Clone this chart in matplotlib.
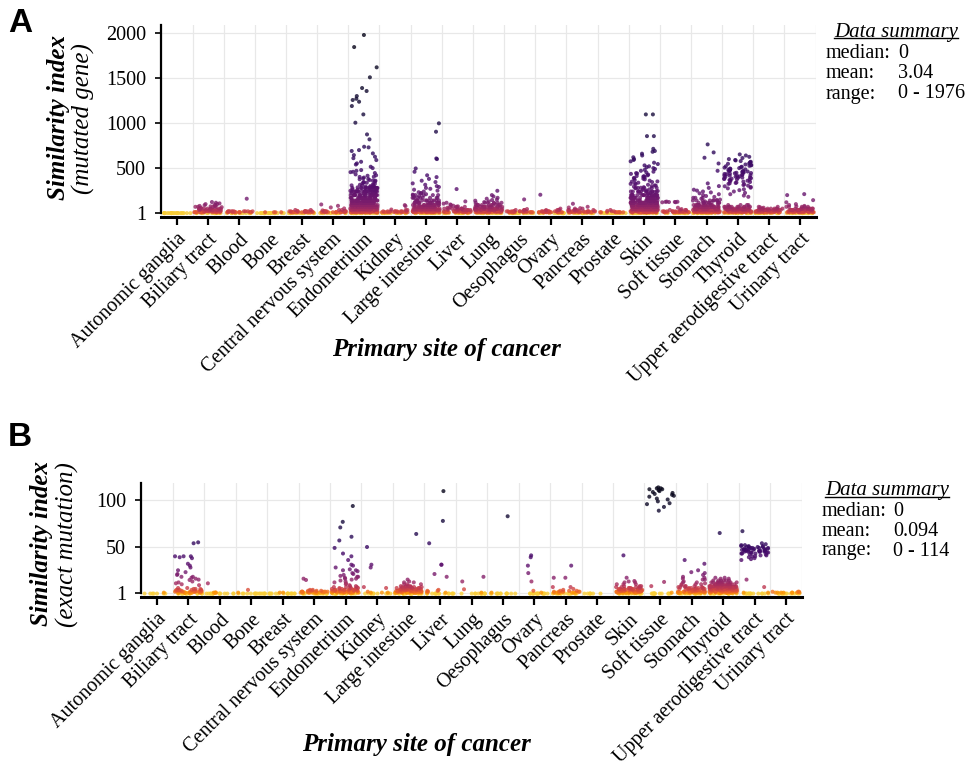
import numpy as np
import matplotlib
matplotlib.use('Agg')
import matplotlib.pyplot as plt
from matplotlib.colors import ListedColormap, FuncNorm
from matplotlib.lines import Line2D
from matplotlib.transforms import ScaledTranslation
import seaborn as sns

plt.rcParams['font.family'] = 'serif'
plt.rcParams['font.serif'] = ['Liberation Serif', 'DejaVu Serif']

sites = ['Autonomic ganglia', 'Biliary tract', 'Blood', 'Bone', 'Breast',
         'Central nervous system', 'Endometrium', 'Kidney', 'Large intestine',
         'Liver', 'Lung', 'Oesophagus', 'Ovary', 'Pancreas', 'Prostate', 'Skin',
         'Soft tissue', 'Stomach', 'Thyroid', 'Upper aerodigestive tract',
         'Urinary tract']

# ---- panel A: similarity index on the mutated gene ----
# low values are very frequent, so they are kept as (level, number of samples)
gene_levels = [0, 10, 20, 35, 50, 70, 90, 115, 140, 170, 200, 240, 280]
gene_counts = [
    [22, 0, 0, 0, 0, 0, 0, 0, 0, 0, 0, 0, 0],          # Autonomic ganglia
    [16, 16, 16, 14, 10, 4, 0, 0, 0, 0, 0, 0, 0],       # Biliary tract
    [16, 14, 8, 0, 0, 0, 0, 0, 0, 0, 0, 0, 0],          # Blood
    [22, 4, 0, 0, 0, 0, 0, 0, 0, 0, 0, 0, 0],           # Bone
    [16, 16, 10, 2, 0, 0, 0, 0, 0, 0, 0, 0, 0],         # Breast
    [16, 16, 10, 2, 0, 0, 0, 0, 0, 0, 0, 0, 0],         # Central nervous system
    [22, 30, 30, 32, 32, 32, 30, 28, 28, 26, 22, 18, 12],  # Endometrium
    [16, 16, 10, 2, 0, 0, 0, 0, 0, 0, 0, 0, 0],         # Kidney
    [18, 22, 22, 22, 22, 20, 18, 16, 12, 8, 5, 0, 0],   # Large intestine
    [16, 16, 14, 12, 8, 3, 0, 0, 0, 0, 0, 0, 0],        # Liver
    [16, 20, 20, 20, 18, 14, 10, 5, 0, 0, 0, 0, 0],     # Lung
    [16, 16, 12, 3, 0, 0, 0, 0, 0, 0, 0, 0, 0],         # Oesophagus
    [16, 16, 12, 4, 0, 0, 0, 0, 0, 0, 0, 0, 0],         # Ovary
    [16, 16, 14, 7, 2, 0, 0, 0, 0, 0, 0, 0, 0],         # Pancreas
    [18, 10, 2, 0, 0, 0, 0, 0, 0, 0, 0, 0, 0],          # Prostate
    [22, 30, 30, 32, 32, 32, 30, 28, 24, 22, 18, 10, 5],  # Skin
    [16, 16, 12, 4, 0, 0, 0, 0, 0, 0, 0, 0, 0],         # Soft tissue
    [20, 24, 24, 24, 22, 20, 15, 10, 5, 2, 0, 0, 0],    # Stomach
    [18, 20, 20, 20, 18, 12, 4, 0, 0, 0, 0, 0, 0],      # Thyroid
    [18, 20, 20, 16, 9, 2, 0, 0, 0, 0, 0, 0, 0],        # Upper aerodigestive tract
    [18, 20, 20, 16, 12, 5, 0, 0, 0, 0, 0, 0, 0],       # Urinary tract
]
gene_scatter = [
    [],
    [60, 66, 72, 75, 80, 85, 88, 92, 100, 100, 108, 115, 123],
    [22, 160],
    [],
    [25],
    [30, 52, 63, 81, 96],
    [1978, 1844, 1619, 1508, 1389, 1356, 1300, 1270, 1256, 1237, 1189, 1096,
     1004, 874, 819, 737, 730, 700, 690, 663, 644, 626, 610, 589, 570, 552,
     540, 515, 500, 478, 470, 459, 445, 430, 415, 404, 395, 385, 376, 367,
     360, 352, 345, 338, 330, 322, 315, 308, 300, 296, 290, 284, 278, 270,
     265, 258, 252, 246, 240, 236, 230, 226, 222, 218, 215, 212, 455, 420,
     402, 380, 362, 340, 326, 312, 305, 298, 292, 286, 275, 262, 255, 248],
    [40, 78, 89],
    [997, 904, 607, 600, 496, 459, 420, 400, 380, 360, 345, 330, 315, 300,
     290, 280, 270, 260, 250, 240, 232, 224, 216, 210, 205, 190, 180],
    [60, 68, 75, 82, 90, 96, 105, 115, 130, 267],
    [110, 116, 122, 130, 138, 145, 150, 160, 170, 185, 200, 248],
    [45, 152],
    [50, 204],
    [55, 62, 70, 104],
    [25, 35],
    [1096, 1096, 855, 855, 714, 681, 690, 660, 640, 620, 600, 590, 575, 560,
     545, 530, 520, 510, 500, 490, 480, 470, 460, 452, 444, 436, 428, 420,
     412, 405, 398, 390, 382, 375, 368, 360, 352, 345, 338, 330, 322, 315,
     308, 300, 294, 288, 282, 276, 270, 264, 258, 252, 246, 240, 234, 228,
     222, 216, 210, 440, 410, 385, 350, 325, 305],
    [120, 121, 123, 124, 125, 126, 128, 45, 60],
    [763, 674, 615, 551, 470, 330, 300, 280, 260, 250, 240, 230, 220, 210,
     200, 190, 180, 170, 160, 150, 145, 140, 135, 130],
    [652, 640, 625, 612, 600, 590, 585, 578, 570, 565, 560, 552, 548, 540,
     535, 530, 525, 520, 515, 510, 505, 500, 495, 490, 486, 482, 478, 474,
     470, 466, 462, 458, 455, 452, 448, 445, 442, 438, 435, 432, 428, 425,
     422, 418, 415, 412, 408, 405, 402, 398, 395, 392, 388, 385, 382, 378,
     375, 372, 368, 365, 360, 355, 350, 345, 340, 335, 330, 325, 320, 312,
     305, 298, 290, 282, 275, 265, 255, 240, 225, 210, 195, 181],
    [60, 65],
    [75, 80, 90, 100, 120, 144, 200, 211],
]

# ---- panel B: similarity index on the exact mutation ----
mut_levels = [0, 1, 2, 3, 4, 5, 6, 7, 8, 10, 12, 14]
mut_counts = [
    [7, 1, 0, 0, 0, 0, 0, 0, 0, 0, 0, 0],          # Autonomic ganglia
    [14, 12, 10, 8, 5, 3, 2, 0, 0, 0, 0, 0],       # Biliary tract
    [14, 4, 0, 0, 0, 0, 0, 0, 0, 0, 0, 0],         # Blood
    [15, 1, 0, 0, 0, 0, 0, 0, 0, 0, 0, 0],         # Bone
    [15, 2, 0, 0, 0, 0, 0, 0, 0, 0, 0, 0],         # Breast
    [15, 14, 10, 5, 2, 0, 0, 0, 0, 0, 0, 0],       # Central nervous system
    [15, 15, 14, 12, 8, 6, 4, 3, 2, 0, 0, 0],      # Endometrium
    [10, 3, 1, 0, 0, 0, 0, 0, 0, 0, 0, 0],         # Kidney
    [15, 16, 16, 14, 12, 10, 8, 6, 5, 3, 1, 0],    # Large intestine
    [14, 2, 2, 1, 0, 0, 0, 0, 0, 0, 0, 0],         # Liver
    [12, 1, 0, 0, 0, 0, 0, 0, 0, 0, 0, 0],         # Lung
    [12, 1, 0, 0, 0, 0, 0, 0, 0, 0, 0, 0],         # Oesophagus
    [14, 1, 0, 0, 0, 0, 0, 0, 0, 0, 0, 0],         # Ovary
    [14, 10, 6, 3, 1, 0, 0, 0, 0, 0, 0, 0],        # Pancreas
    [7, 0, 0, 0, 0, 0, 0, 0, 0, 0, 0, 0],          # Prostate
    [15, 15, 14, 12, 10, 8, 6, 4, 3, 2, 1, 0],     # Skin
    [12, 1, 0, 0, 0, 0, 0, 0, 0, 0, 0, 0],         # Soft tissue
    [15, 15, 12, 10, 8, 7, 6, 4, 3, 2, 1, 0],      # Stomach
    [15, 18, 18, 18, 18, 18, 18, 16, 16, 14, 10, 6],  # Thyroid
    [14, 2, 0, 0, 0, 0, 0, 0, 0, 0, 0, 0],         # Upper aerodigestive tract
    [14, 8, 3, 0, 0, 0, 0, 0, 0, 0, 0, 0],         # Urinary tract
]
mut_scatter = [
    [],
    [54, 55, 40, 40, 39, 38, 32, 30, 28, 25, 21, 18, 18, 16, 14.6, 13, 12,
     11, 10, 9, 40, 20, 17, 15, 23],
    [11],
    [4],
    [],
    [16, 14.6],
    [94, 77, 71, 61, 57, 49, 43, 40, 36, 31, 30, 25, 25, 22, 20, 18, 18, 16,
     15, 14, 13, 12, 11, 10, 9, 28, 26, 24, 21, 19, 17, 16],
    [50, 31, 28, 7, 6],
    [64, 15, 13, 12],
    [110, 78, 54, 31, 31, 21, 18, 4, 3],
    [18, 13, 4.6],
    [83],
    [41, 39, 30, 22, 13, 3],
    [30, 17, 17, 7, 7, 5],
    [],
    [41, 17, 13.5, 13, 12, 10],
    [114, 113, 113, 112, 112, 111, 110, 109, 108, 107, 106, 105, 104, 102,
     101, 99, 97, 96, 93, 89, 12.5, 8],
    [36, 32, 25, 23, 22, 18, 16, 15, 15, 13, 12, 11, 10, 9, 17, 20],
    [65, 16, 17, 16, 17],
    [54, 53, 52, 52, 51, 51, 50, 50, 50, 49, 49, 49, 48, 48, 48, 48, 47, 47,
     47, 47, 47, 46, 46, 46, 46, 46, 45, 45, 45, 45, 44, 44, 44, 43, 43, 43,
     42, 42, 41, 41, 40, 40, 39, 38, 37, 36, 49, 48, 47, 46, 45, 44, 50, 51,
     67, 15, 7],
    [],
]

gene_summary = ['0', '3.04', '0 - 1976']
mut_summary = ['0', '0.094', '0 - 114']


def expand(levels, counts, scatter):
    cats, vals = [], []
    for site, row, extra in zip(sites, counts, scatter):
        v = list(np.repeat(levels, row)) + list(extra)
        cats += [site] * len(v)
        vals += v
    return cats, vals


# inferno from orange (low) to near black (high)
cmap = ListedColormap(plt.cm.inferno(np.linspace(0.88, 0.04, 256)))

W, H = 972, 764
fig = plt.figure(figsize=(W / 100, H / 100), dpi=100)


def fx(px):
    return px / W


def fy(py):
    return 1 - py / H


def strip_panel(ax, cats, vals, ylim, yticks):
    sns.stripplot(x=cats, y=vals, order=sites, jitter=0.44, size=2.9,
                  linewidth=0, alpha=0.8, color='k', ax=ax)
    norm = FuncNorm((np.log1p, np.expm1), vmin=0, vmax=max(vals))
    for coll in ax.collections:
        offs = np.asarray(coll.get_offsets())
        if len(offs) == 0:
            continue
        coll.set_array(offs[:, 1])
        coll.set_cmap(cmap)
        coll.set_norm(norm)
        coll.set_zorder(3)

    # spines first: moving a spine rebuilds the ticks
    for s in ['top', 'right']:
        ax.spines[s].set_visible(False)
    ax.spines['bottom'].set_position(('outward', 1))
    ax.spines['left'].set_bounds(1, ylim[1])
    ax.spines['left'].set_linewidth(1.6)
    ax.spines['bottom'].set_linewidth(2.2)

    ax.set_xlim(-0.5, len(sites) - 0.5)
    ax.set_ylim(*ylim)
    ax.set_xticks(range(len(sites)))
    ax.set_xticklabels(sites, rotation=45, ha='right', va='top',
                       rotation_mode='anchor', fontsize=14.5)
    shift = ScaledTranslation(5 / 100, 0, fig.dpi_scale_trans)
    for lab in ax.get_xticklabels():
        lab.set_transform(lab.get_transform() + shift)
    ax.set_xticks(np.arange(len(sites) + 1) - 0.5, minor=True)
    ax.set_yticks(yticks)
    ax.set_yticklabels([str(t) for t in yticks], fontsize=14.5)
    ax.set_xlabel('')
    ax.set_ylabel('')

    ax.grid(False)
    ax.grid(which='minor', axis='x', color='#e8e8e8', lw=0.9)
    ax.grid(which='major', axis='y', color='#e8e8e8', lw=0.9)
    ax.set_axisbelow(True)

    ax.tick_params(axis='x', which='major', length=6, width=1.6, pad=3)
    ax.tick_params(axis='y', which='major', length=4, width=1.2, pad=7)
    ax.tick_params(which='minor', length=0)


def summary(x_head, x_lab, x_val, y_head, y_rows, values):
    t = fig.text(fx(x_head), fy(y_head), 'Data summary',
                 style='italic', fontsize=15, ha='center', va='center')
    for lab, val, y in zip(['median:', 'mean:', 'range:'], values, y_rows):
        fig.text(fx(x_lab), fy(y), lab, fontsize=14.5, ha='left', va='center')
        fig.text(fx(x_val), fy(y), val, fontsize=14.5, ha='left', va='center')
    return t


def underline(t):
    bb = t.get_window_extent().transformed(fig.transFigure.inverted())
    fig.add_artist(Line2D([bb.x0, bb.x1], [bb.y0 + 0.004, bb.y0 + 0.004],
                          transform=fig.transFigure, color='k', lw=1.0))


axA = fig.add_axes([fx(161.4), fy(216), fx(815.6) - fx(161.4), fy(25) - fy(216)])
cats, vals = expand(gene_levels, gene_counts, gene_scatter)
strip_panel(axA, cats, vals, (-32, 2089), [1, 500, 1000, 1500, 2000])

axB = fig.add_axes([fx(141.3), fy(596), fx(801.7) - fx(141.3), fy(483) - fy(596)])
cats, vals = expand(mut_levels, mut_counts, mut_scatter)
strip_panel(axB, cats, vals, (-2.6, 118.7), [1, 50, 100])

# panel letters
fig.text(fx(8), fy(24), 'A', family='Liberation Sans', weight='bold', size=24,
         ha='left', va='center')
fig.text(fx(8), fy(438), 'B', family='Liberation Sans', weight='bold', size=24,
         ha='left', va='center')

# axis titles
fig.text(fx(59), fy(118), 'Similarity index', rotation=90, style='italic',
         weight='bold', fontsize=18, ha='center', va='center')
fig.text(fx(83), fy(119), '(mutated gene)', rotation=90, style='italic',
         fontsize=18, ha='center', va='center')
fig.text(fx(42), fy(543), 'Similarity index', rotation=90, style='italic',
         weight='bold', fontsize=18, ha='center', va='center')
fig.text(fx(67), fy(545), '(exact mutation)', rotation=90, style='italic',
         fontsize=18, ha='center', va='center')
fig.text(fx(446), fy(350), 'Primary site of cancer', style='italic',
         weight='bold', fontsize=18, ha='center', va='center')
fig.text(fx(416), fy(745), 'Primary site of cancer', style='italic',
         weight='bold', fontsize=18, ha='center', va='center')

tA = summary(896, 826, 898, 32, [53, 74, 94], gene_summary)
tB = summary(887, 822, 893, 491, [511, 531, 551], mut_summary)
fig.canvas.draw()
underline(tA)
underline(tB)

fig.savefig('out.png', dpi=100)
